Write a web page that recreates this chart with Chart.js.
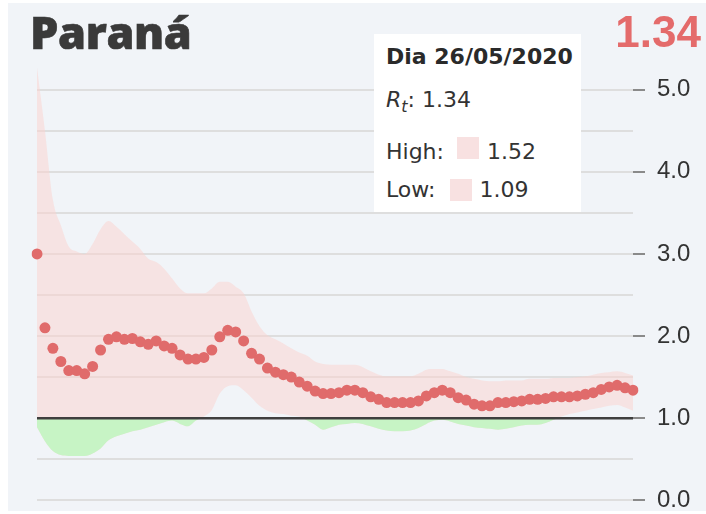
<!DOCTYPE html>
<html><head><meta charset="utf-8">
<script src="https://cdn.jsdelivr.net/npm/chart.js@4.4.1/dist/chart.umd.min.js"></script>
<style>
html,body{margin:0;padding:0;background:#fff;width:706px;height:514px;overflow:hidden;}
#bg{position:absolute;left:8px;top:3px;width:698px;height:508px;background:#f1f4f8;}
#c{position:absolute;left:0;top:0;}
#title{position:absolute;left:30px;top:9px;font:800 45px "Open Sans", sans-serif;line-height:45px;letter-spacing:-0.4px;color:#3a3a3a;-webkit-text-stroke:0.6px #3a3a3a;}
#current{position:absolute;right:5px;top:10px;font:bold 44px "Liberation Sans", Arial, sans-serif;line-height:44px;color:#e46b6b;}
#tip{position:absolute;left:374px;top:34px;width:207px;height:178px;background:#fff;font:22px "DejaVu Sans",sans-serif;color:#333;}
#tip div{position:absolute;left:12px;white-space:nowrap;line-height:26px;}
#tip .t{font-weight:bold;color:#2a2a2a;}
.sq{display:inline-block;width:22px;height:22px;background:#f8e1e1;}
</style></head><body>
<div id="bg"></div>
<canvas id="c" width="706" height="514"></canvas>
<div id="title">Paraná</div>
<div id="current"></div>
<div id="tip">
  <div class="t" style="top:10px" id="tDate"></div>
  <div style="top:53px"><i>R<sub style="font-size:16px">t</sub></i>: <span id="tRt"></span></div>
  <div style="top:103px">High:<span class="sq" style="margin:0 8px 0 13px"></span><span id="tHigh"></span></div>
  <div style="top:143px">Low:<span class="sq" style="margin:0 8px 0 14px;vertical-align:-4px"></span><span id="tLow"></span></div>
</div>
<script>
const dates = [
 "12/03/2020","13/03/2020","14/03/2020","15/03/2020","16/03/2020","17/03/2020","18/03/2020","19/03/2020","20/03/2020","21/03/2020",
 "22/03/2020","23/03/2020","24/03/2020","25/03/2020","26/03/2020","27/03/2020","28/03/2020","29/03/2020","30/03/2020","31/03/2020",
 "01/04/2020","02/04/2020","03/04/2020","04/04/2020","05/04/2020","06/04/2020","07/04/2020","08/04/2020","09/04/2020","10/04/2020",
 "11/04/2020","12/04/2020","13/04/2020","14/04/2020","15/04/2020","16/04/2020","17/04/2020","18/04/2020","19/04/2020","20/04/2020",
 "21/04/2020","22/04/2020","23/04/2020","24/04/2020","25/04/2020","26/04/2020","27/04/2020","28/04/2020","29/04/2020","30/04/2020",
 "01/05/2020","02/05/2020","03/05/2020","04/05/2020","05/05/2020","06/05/2020","07/05/2020","08/05/2020","09/05/2020","10/05/2020",
 "11/05/2020","12/05/2020","13/05/2020","14/05/2020","15/05/2020","16/05/2020","17/05/2020","18/05/2020","19/05/2020","20/05/2020",
 "21/05/2020","22/05/2020","23/05/2020","24/05/2020","25/05/2020","26/05/2020"];

const rt = [3.00,2.10,1.85,1.69,1.58,1.58,1.54,1.63,1.83,1.96,
 1.99,1.96,1.97,1.93,1.90,1.94,1.88,1.85,1.77,1.72,
 1.72,1.74,1.83,1.99,2.07,2.05,1.94,1.79,1.72,1.61,
 1.56,1.53,1.50,1.44,1.39,1.33,1.30,1.30,1.31,1.34,
 1.34,1.31,1.26,1.23,1.19,1.19,1.19,1.19,1.21,1.27,
 1.31,1.34,1.31,1.25,1.22,1.17,1.15,1.15,1.19,1.19,
 1.20,1.21,1.23,1.23,1.24,1.26,1.26,1.26,1.27,1.29,
 1.31,1.35,1.38,1.40,1.37,1.34];

const high = [5.27,4.50,3.66,3.35,3.09,3.03,3.00,3.12,3.30,3.40,
 3.33,3.24,3.15,3.06,2.94,2.90,2.82,2.70,2.58,2.52,
 2.52,2.52,2.58,2.66,2.66,2.60,2.52,2.30,2.12,2.01,
 1.96,1.91,1.85,1.80,1.76,1.69,1.66,1.65,1.65,1.65,
 1.65,1.62,1.57,1.53,1.51,1.51,1.51,1.51,1.54,1.59,
 1.60,1.60,1.57,1.54,1.50,1.48,1.46,1.45,1.45,1.46,
 1.46,1.46,1.48,1.48,1.48,1.49,1.49,1.49,1.50,1.51,
 1.53,1.55,1.56,1.57,1.55,1.52];

const low = [0.89,0.72,0.60,0.55,0.54,0.54,0.54,0.57,0.63,0.73,
 0.78,0.81,0.84,0.86,0.89,0.92,0.95,0.97,0.93,0.90,
 0.97,1.02,1.10,1.30,1.39,1.40,1.34,1.25,1.15,1.09,
 1.06,1.05,1.03,1.02,0.97,0.92,0.86,0.89,0.92,0.93,
 0.94,0.93,0.90,0.87,0.85,0.84,0.84,0.85,0.88,0.93,
 0.97,0.98,0.96,0.93,0.91,0.89,0.88,0.87,0.86,0.87,
 0.89,0.91,0.92,0.92,0.94,0.98,1.02,1.05,1.07,1.09,
 1.11,1.13,1.15,1.16,1.13,1.09];

const yTicks = [0, 1, 2, 3, 4, 5];
const THRESHOLD = 1;
const Y_MIN = -0.1, Y_MAX = 5.3, Y_STEP = 0.5;

const last = rt.length - 1;
document.getElementById('current').textContent = rt[last].toFixed(2);
document.getElementById('tDate').textContent = 'Dia ' + dates[last];
document.getElementById('tRt').textContent = rt[last].toFixed(2);
document.getElementById('tHigh').textContent = high[last].toFixed(2);
document.getElementById('tLow').textContent = low[last].toFixed(2);

const thresholdLine = {
  id: 'thresholdLine',
  afterDatasetsDraw(chart) {
    const {ctx, chartArea, scales} = chart;
    const py = scales.y.getPixelForValue(THRESHOLD);
    ctx.save();
    ctx.strokeStyle = '#3f3f3f';
    ctx.lineWidth = 2.5;
    ctx.beginPath();
    ctx.moveTo(chartArea.left, py);
    ctx.lineTo(chartArea.right, py);
    ctx.stroke();
    ctx.restore();
  }
};

const isMajor = v => yTicks.some(t => Math.abs(t - v) < 1e-6);

new Chart(document.getElementById('c'), {
  type: 'line',
  data: {
    labels: dates,
    datasets: [
      { label: 'Rt', data: rt, showLine: false, pointRadius: 5.5, pointHoverRadius: 5.5,
        pointBackgroundColor: '#e06b6b', pointBorderWidth: 0, borderColor: '#e06b6b', order: 0 },
      { label: 'High', data: high, pointRadius: 0, borderWidth: 0, borderColor: 'rgba(0,0,0,0)',
        backgroundColor: 'rgba(252,210,208,0.52)', fill: '+1', cubicInterpolationMode: 'monotone', order: 2 },
      { label: 'Low', data: low, pointRadius: 0, borderWidth: 0, borderColor: 'rgba(0,0,0,0)',
        fill: { target: { value: THRESHOLD }, above: 'rgba(0,0,0,0)', below: '#c7f4c5' },
        cubicInterpolationMode: 'monotone', order: 1 }
    ]
  },
  options: {
    responsive: false,
    animation: false,
    events: [],
    layout: { padding: { left: 37, right: 0, top: 65, bottom: 1 } },
    plugins: { legend: { display: false }, tooltip: { enabled: false }, title: { display: false } },
    scales: {
      x: { display: false },
      y: {
        position: 'right',
        min: Y_MIN, max: Y_MAX,
        border: { display: false },
        grid: {
          color: '#dedede', lineWidth: 2, drawTicks: true, tickLength: 12,
          tickColor: ctx => isMajor(ctx.tick.value) ? '#8a8a8a' : 'rgba(0,0,0,0)', tickWidth: 2
        },
        ticks: {
          stepSize: Y_STEP, includeBounds: false, padding: 12,
          color: '#333', font: { family: 'Liberation Sans', size: 24 },
          callback: v => isMajor(v) ? Number(v).toFixed(1) : ''
        },
        afterFit(scale) { scale.width = 73; scale.paddingTop = 0; scale.paddingBottom = 0; }
      }
    }
  },
  plugins: [thresholdLine]
});
</script>
</body></html>
